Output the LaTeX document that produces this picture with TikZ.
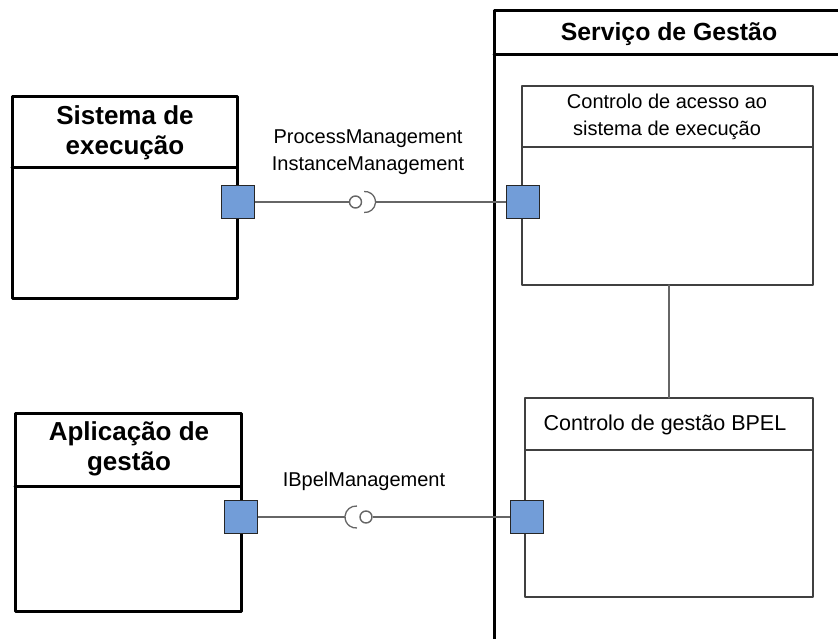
\documentclass[tikz,border=0pt]{standalone}
\usepackage{fontspec}
\setmainfont{Liberation Sans}
\usepackage{tkz-euclide}
\definecolor{portblue}{RGB}{114,157,216}
\tikzset{
  port/.style={draw=black!85,fill=portblue,line width=1.6pt,minimum size=33pt,inner sep=0pt},
  ball/.style={circle,draw=black!60,fill=white,line width=1.4pt,minimum size=12pt,inner sep=0pt},
  wire/.style={draw=black!60,line width=1.3pt},
  headtxt/.style={font=\fontsize{26}{30}\selectfont\bfseries,align=center,inner sep=0pt},
  plaintxt/.style={font=\fontsize{20}{27}\selectfont,align=center,inner sep=0pt},
}

\begin{document}
\begin{tikzpicture}[x=1pt,y=-1pt]
    \useasboundingbox (0,0) rectangle (838,639);
    \clip (0,0) rectangle (838,639);
    % components
    \tkzDefPoints{12/97/S1,237/97/S2,237/298/S3,12/298/S4,12/168/S5,237/168/S6}
    \tkzDefPoints{15/413/A1,241/413/A2,241/611/A3,15/611/A4,15/486/A5,241/486/A6}
    \tkzDefPoints{494/11/G1,900/11/G2,900/700/G3,494/700/G4,494/55/G5,900/55/G6}
    % parts of the service
    \tkzDefPoints{522/86/C1,813/86/C2,813/285/C3,522/285/C4,522/147/C5,813/147/C6}
    \tkzDefPoints{525/398/B1,813/398/B2,813/597/B3,525/597/B4,525/450/B5,813/450/B6}
    \tkzDefPoints{669/285/L1,669/398/L2}
    \tkzDrawPolygons[line width=3pt,black](S1,S2,S3,S4 A1,A2,A3,A4 G1,G2,G3,G4)
    \tkzDrawSegments[line width=3pt,black](S5,S6 A5,A6 G5,G6)
    \tkzDrawPolygons[line width=1.5pt,black!75](C1,C2,C3,C4 B1,B2,B3,B4)
    \tkzDrawSegments[line width=1.5pt,black!75](C5,C6 B5,B6)
    \tkzDrawSegment[wire](L1,L2)
    \node[headtxt] (sis) at (125,133) {Sistema de\\execução};
    \node[headtxt] (apl) at (129,449) {Aplicação de\\gestão};
    \node[headtxt,font=\fontsize{24.8}{30}\selectfont\bfseries] (srv) at (669,34) {Serviço de Gestão};
    \node[plaintxt] (ctlA) at (667,117) {Controlo de acesso ao\\sistema de execução};
    \node[plaintxt,font=\fontsize{21.5}{27}\selectfont] (ctlB) at (665,425) {Controlo de gestão BPEL};
    \node[plaintxt] (ifA) at (368,152) {ProcessManagement\\InstanceManagement};
    \node[plaintxt] (ifB) at (364,481) {IBpelManagement};
    % provided and required interfaces
    \node[ball] (ballA) at (355.5,202) {};
    \coordinate (sockA) at (365,202);
    \coordinate (sockAe) at (375.5,202);
    \node[ball] (ballB) at (366,517) {};
    \coordinate (sockB) at (356,517);
    \coordinate (sockBw) at (345,517);
    \draw[wire] ([shift={(-95:10.5pt)}]sockA) arc[start angle=-95,end angle=95,radius=10.5pt];
    \draw[wire] ([shift={(85:11pt)}]sockB) arc[start angle=85,end angle=275,radius=11pt];
    \node[port] (pSis) at (238,202) {};
    \node[port] (pAcc) at (523,202) {};
    \node[port] (pApl) at (241,517) {};
    \node[port] (pBpel) at (527,517) {};
    \draw[wire] (pSis) -- (ballA);
    \draw[wire] (sockAe) -- (pAcc);
    \draw[wire] (pApl) -- (sockBw);
    \draw[wire] (ballB) -- (pBpel);
\end{tikzpicture}
\end{document}
